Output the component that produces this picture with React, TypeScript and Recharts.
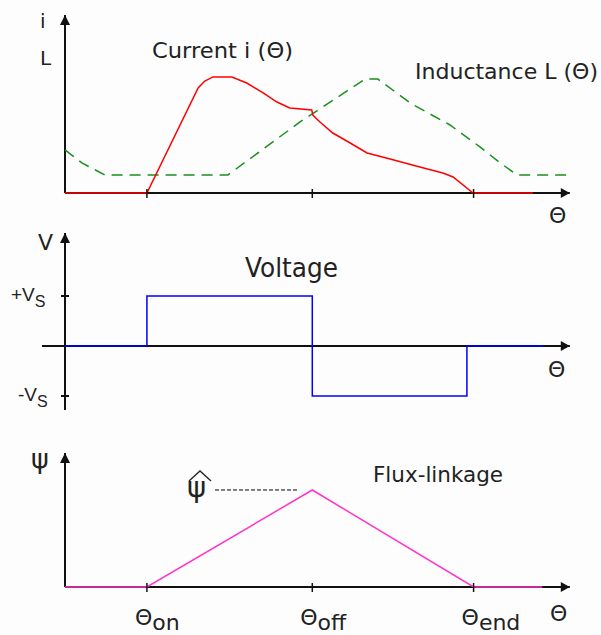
import { LineChart, Line, XAxis, YAxis, ReferenceLine, ReferenceDot } from 'recharts'

const FONT = '"DejaVu Sans", sans-serif'
const AXIS = '#111'

// rotor angle runs 0..100 along every x axis
const thetaTicks = [16, 48.3, 79.8]
const thetaTickNames = ['on', 'off', 'end']
const xArrow = 98.6

const currentTheta = [0, 16, 26, 27.3, 28.9, 32.6, 35.5, 38.7, 41.4, 43.9, 48.2, 48.4, 49.8, 52.3, 55.7, 59, 63.5, 69.3, 73.8, 75.8, 79.7, 91.4]
const currentValues = [0, 0, 59, 62.9, 65.2, 65.2, 61.8, 56.2, 51.1, 47.8, 46.6, 43.8, 39.9, 33.7, 28.1, 22.5, 19.1, 14.6, 11.2, 9, 0, 0]

const inductanceTheta = [0, 3.3, 7.8, 31.8, 45.9, 58.6, 61.1, 67.4, 75.2, 81.1, 85, 88.3, 99.2]
const inductanceValues = [24.2, 16.9, 10.1, 10.1, 39.9, 64, 64, 50.6, 38.2, 25.8, 16.9, 10.1, 10.1]

const voltageTheta = [0, 16, 48.3, 78.5, 93.4]
const voltageValues = [0, 1, -1, 0, 0]
const voltageTicks = [1, -1]
const voltageTickNames = ['+V', '-V']

const fluxTheta = [0, 16, 48.3, 79.8, 93.2]
const fluxValues = [0, 0, 72.4, 0, 0]

const zip = (xs: number[], ys: number[]) => xs.map((theta, i) => ({ theta, value: ys[i] }))
const currentData = zip(currentTheta, currentValues)
const inductanceData = zip(inductanceTheta, inductanceValues)
const voltageData = zip(voltageTheta, voltageValues)
const fluxData = zip(fluxTheta, fluxValues)
const fluxPeak = Math.max(...fluxValues)

const arrowRight = (p: any) => (
  <polygon points={`${p.cx},${p.cy} ${p.cx - 9},${p.cy - 5} ${p.cx - 9},${p.cy + 5}`} fill={AXIS} />
)
const arrowUp = (p: any) => (
  <polygon points={`${p.cx},${p.cy} ${p.cx - 5},${p.cy + 10} ${p.cx + 5},${p.cy + 10}`} fill={AXIS} />
)

const TickMark = ({ x, y }: any) => (
  <line x1={x} x2={x} y1={y - 4} y2={y + 5} stroke={AXIS} strokeWidth={1.5} />
)

const ThetaTick = ({ x, y, index }: any) => (
  <g>
    <line x1={x} x2={x} y1={y - 4} y2={y + 5} stroke={AXIS} strokeWidth={1.5} />
    <text x={x - 12} y={y + 38} fontSize={22} fontFamily={FONT} fill="#222">
      Θ<tspan dy={5}>{thetaTickNames[index]}</tspan>
    </text>
  </g>
)

// tick on the voltage axis, with its +Vs / -Vs label
const voltTick = (i: number) => (p: any) => (
  <g>
    <line x1={p.cx - 4} x2={p.cx + 4} y1={p.cy} y2={p.cy} stroke={AXIS} strokeWidth={2} />
    <text x={i === 0 ? 11 : 18} y={p.cy + 5} fontSize={19} fontFamily='"Liberation Sans", sans-serif' fill="#222">
      {voltageTickNames[i]}
      <tspan dy={6} fontSize={16}>S</tspan>
    </text>
  </g>
)

const axisLine = { stroke: AXIS, strokeWidth: 2, ifOverflow: 'visible' as const }

export default function App() {
  return (
    <div style={{ position: 'absolute', left: 0, top: 0, width: 601, height: 635, background: '#fdfdfd', overflow: 'hidden' }}>
      <div style={{ position: 'absolute', left: 0, top: 0 }}>
        <LineChart width={601} height={230} margin={{ top: 15, right: 24, left: 65, bottom: 0 }}>
          <XAxis type="number" dataKey="theta" domain={[0, 100]} ticks={thetaTicks} interval={0}
            axisLine={false} tickLine={false} tickSize={0} tickMargin={0} height={37} tick={<TickMark />} />
          <YAxis type="number" dataKey="value" domain={[0, 100]} hide />
          <ReferenceLine segment={[{ x: 0, y: 0 }, { x: xArrow, y: 0 }]} {...axisLine} />
          <ReferenceLine segment={[{ x: 0, y: 0 }, { x: 0, y: 100 }]} {...axisLine} />
          <ReferenceDot x={xArrow} y={0} shape={arrowRight} ifOverflow="visible" />
          <ReferenceDot x={0} y={100} shape={arrowUp} ifOverflow="visible" />
          <Line data={inductanceData} dataKey="value" type="linear" stroke="#1a8f1a" strokeWidth={1.5}
            strokeDasharray="11 7" dot={false} isAnimationActive={false} />
          <Line data={currentData} dataKey="value" type="linear" stroke="#ff0000" strokeWidth={1.5}
            dot={false} isAnimationActive={false} />
        </LineChart>
      </div>

      <div style={{ position: 'absolute', left: 0, top: 215 }}>
        <LineChart width={601} height={215} margin={{ top: 18, right: 24, left: 65, bottom: 20 }}>
          <XAxis type="number" dataKey="theta" domain={[0, 100]} hide />
          <YAxis type="number" dataKey="value" domain={[-1.28, 2.26]} hide />
          <ReferenceLine segment={[{ x: -4.5, y: 0 }, { x: xArrow, y: 0 }]} {...axisLine} />
          <ReferenceLine segment={[{ x: 0, y: -1.28 }, { x: 0, y: 2.26 }]} {...axisLine} />
          <ReferenceDot x={xArrow} y={0} shape={arrowRight} ifOverflow="visible" />
          <ReferenceDot x={0} y={2.26} shape={arrowUp} ifOverflow="visible" />
          {voltageTicks.map((v, i) => (
            <ReferenceDot key={v} x={0} y={v} shape={voltTick(i)} ifOverflow="visible" />
          ))}
          <Line data={voltageData} dataKey="value" type="stepAfter" stroke="#0000ff" strokeWidth={1.5}
            dot={false} isAnimationActive={false} />
        </LineChart>
      </div>

      <div style={{ position: 'absolute', left: 0, top: 430 }}>
        <LineChart width={601} height={205} margin={{ top: 23, right: 24, left: 65, bottom: 0 }}>
          <XAxis type="number" dataKey="theta" domain={[0, 100]} ticks={thetaTicks} interval={0}
            axisLine={false} tickLine={false} tickSize={0} tickMargin={0} height={48} tick={<ThetaTick />} />
          <YAxis type="number" dataKey="value" domain={[0, 100]} hide />
          <ReferenceLine segment={[{ x: 0, y: 0 }, { x: xArrow, y: 0 }]} {...axisLine} />
          <ReferenceLine segment={[{ x: 0, y: 0 }, { x: 0, y: 100 }]} {...axisLine} />
          <ReferenceDot x={xArrow} y={0} shape={arrowRight} ifOverflow="visible" />
          <ReferenceDot x={0} y={100} shape={arrowUp} ifOverflow="visible" />
          <ReferenceLine segment={[{ x: 29.3, y: fluxPeak }, { x: 45.5, y: fluxPeak }]} stroke="#000"
            strokeWidth={1} strokeDasharray="4 2" />
          <Line data={fluxData} dataKey="value" type="linear" stroke="#ff33cc" strokeWidth={1.5}
            dot={false} isAnimationActive={false} />
        </LineChart>
      </div>

      <svg width={601} height={635} style={{ position: 'absolute', left: 0, top: 0, pointerEvents: 'none' }}
        fontFamily={FONT} fill="#222">
        <text x={40} y={28} fontSize={20}>i</text>
        <text x={40} y={65} fontSize={20}>L</text>
        <text x={152} y={58} fontSize={22} textLength={141} lengthAdjust="spacingAndGlyphs">Current i (Θ)</text>
        <text x={415} y={79} fontSize={22} textLength={183} lengthAdjust="spacingAndGlyphs">Inductance L (Θ)</text>
        <text x={549} y={223} fontSize={22}>Θ</text>

        <text x={38} y={250} fontSize={22}>V</text>
        <text x={245} y={277} fontSize={26} textLength={93} lengthAdjust="spacingAndGlyphs">Voltage</text>
        <text x={548} y={377} fontSize={22}>Θ</text>

        <text x={31} y={468} fontSize={27}>ψ</text>
        <text x={187} y={497} fontSize={29}>ψ</text>
        <polyline points="189,481 200,471 211,481" fill="none" stroke="#222" strokeWidth={1.3} />
        <text x={373} y={482} fontSize={22} textLength={130} lengthAdjust="spacingAndGlyphs">Flux-linkage</text>
        <text x={550} y={621} fontSize={22}>Θ</text>
      </svg>
    </div>
  )
}
